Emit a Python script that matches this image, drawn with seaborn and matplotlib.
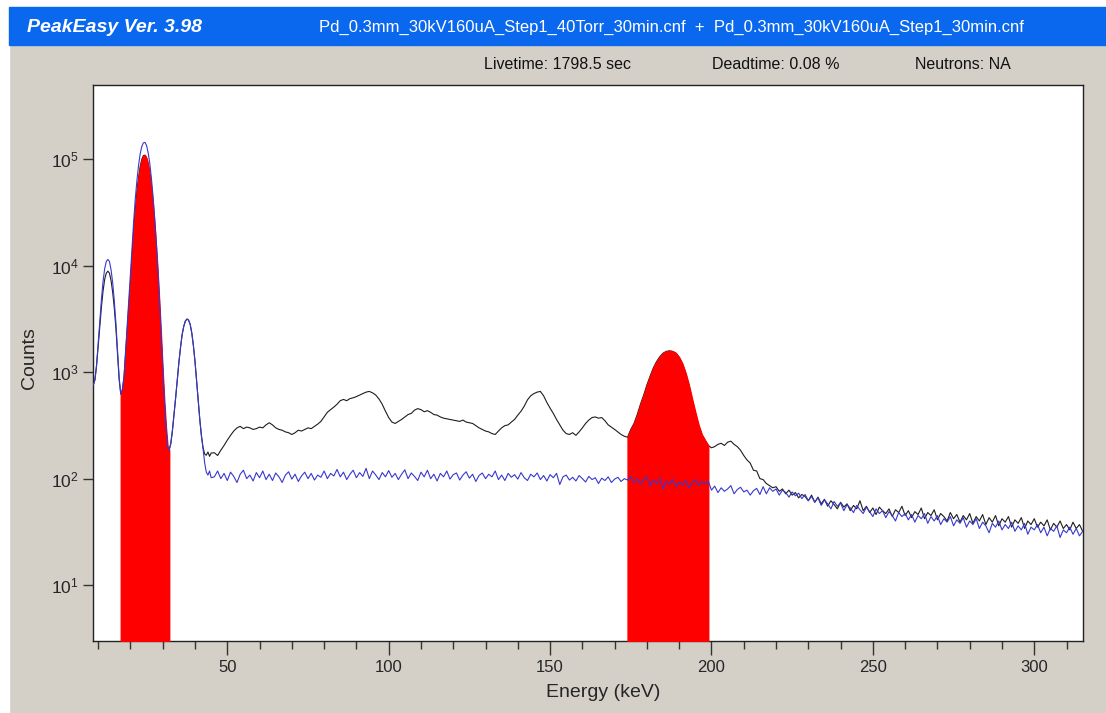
import numpy as np
import pandas as pd
import seaborn as sns
import matplotlib.pyplot as plt
import matplotlib.ticker as tkr
from matplotlib.patches import Rectangle

# energy grid: fine steps over the low-energy peaks, 1 keV over the continuum
energy_fine = np.arange(8.5, 45.5, 0.5)
energy_coarse = np.arange(46, 316, 1)

# black trace (Step1_40Torr) - peak region, 0.5 keV steps
black_fine = [760, 850, 1150, 1740, 2690, 4070, 5750, 7410, 8510, 8910,
              8510, 7240, 5620, 3980, 2570, 1480, 850, 620, 680, 890,
              1510, 2630, 4270, 6920, 12600, 21400, 33900, 50100, 67600, 85100,
              100000, 108400, 109600, 102300, 89100, 70800, 52500, 36300, 23400, 14100,
              7940, 4170, 2090, 1000, 525, 302, 200, 186, 214, 282,
              398, 575, 851, 1230, 1700, 2240, 2690, 3020, 3160, 3090,
              2820, 2340, 1780, 1260, 830, 537, 355, 251, 195, 170,
              166, 178, 162, 174]

# blue trace (Step1_30min) - peak region, 0.5 keV steps
blue_fine = [760, 850, 1170, 1860, 3020, 4790, 7080, 9330, 10960, 11480,
             10960, 9120, 6920, 4680, 2880, 1580, 890, 630, 690, 910,
             1580, 2820, 4790, 8130, 14800, 26300, 42700, 63100, 87100, 112200,
             131800, 142900, 144500, 134900, 114800, 91200, 66100, 44700, 28200, 16600,
             9120, 4680, 2240, 1050, 537, 302, 200, 186, 214, 282,
             398, 575, 851, 1230, 1700, 2240, 2690, 3020, 3160, 3090,
             2820, 2340, 1780, 1260, 830, 537, 355, 251, 190, 140,
             115, 108, 118, 102]

# black trace 46..315 keV
black_coarse = [175, 165, 185, 205, 230, 255, 280, 300, 310, 295,
                305, 300, 290, 295, 305, 300, 320, 335, 320, 300,
                290, 285, 275, 270, 260, 270, 285, 280, 290, 300,
                295, 310, 325, 345, 380, 420, 445, 470, 500, 540,
                555, 540, 565, 575, 590, 610, 630, 650, 660, 640,
                610, 560, 500, 430, 375, 340, 330, 345, 360, 380,
                400, 410, 440, 455, 445, 425, 435, 420, 400, 395,
                380, 370, 365, 360, 355, 350, 345, 355, 340, 335,
                330, 315, 300, 290, 280, 275, 265, 260, 280, 300,
                315, 320, 340, 360, 395, 430, 480, 550, 600, 630,
                650, 660, 600, 520, 460, 410, 360, 320, 285, 265,
                260, 270, 255, 275, 300, 330, 355, 375, 380, 370,
                375, 350, 320, 305, 290, 275, 260, 250, 245, 290,
                330, 400, 500, 610, 760, 920, 1100, 1260, 1400, 1510,
                1570, 1590, 1570, 1510, 1380, 1200, 980, 760, 560, 420,
                320, 260, 230, 205, 195, 200, 210, 215, 205, 220,
                225, 210, 200, 185, 165, 150, 140, 120, 118, 100,
                98, 90, 86, 82, 84, 76, 80, 72, 78, 70,
                74, 66, 71, 68, 62, 70, 60, 67, 58, 64,
                55, 62, 57, 52, 60, 54, 58, 50, 56, 52,
                62, 50, 55, 48, 53, 46, 54, 50, 47, 52,
                44, 51, 48, 55, 45, 50, 43, 49, 46, 53,
                42, 48, 45, 51, 41, 47, 44, 40, 48, 42,
                46, 39, 45, 41, 47, 38, 44, 40, 46, 37,
                43, 39, 45, 36, 42, 39, 44, 35, 41, 38,
                43, 34, 40, 37, 42, 35, 39, 36, 41, 33,
                38, 35, 40, 34, 37, 33, 39, 34, 37, 32]

# blue trace 46..315 keV
blue_coarse = [104, 118, 100, 112, 96, 115, 105, 92, 110, 120,
               100, 108, 95, 114, 102, 118, 98, 110, 96, 113,
               104, 92, 108, 116, 99, 110, 94, 106, 115, 100,
               112, 97, 108, 103, 118, 100, 112, 106, 122, 104,
               115, 98, 110, 120, 102, 114, 105, 125, 100, 118,
               108, 98, 114, 104, 119, 103, 112, 98, 110, 121,
               100, 113, 105, 96, 115, 104, 120, 100, 110, 95,
               112, 104, 118, 99, 109, 113, 97, 108, 116, 101,
               110, 94, 107, 113, 100, 110, 104, 118, 98, 108,
               96, 112, 103, 109, 99, 114, 102, 96, 110, 104,
               113, 98, 107, 95, 109, 102, 112, 88, 104, 108,
               97, 103, 95, 107, 100, 93, 105, 98, 102, 90,
               101, 96, 104, 92, 99, 103, 94, 100, 97, 105,
               92, 100, 88, 98, 104, 85, 97, 90, 101, 80,
               95, 88, 99, 84, 93, 87, 96, 82, 92, 98,
               86, 94, 89, 95, 78, 85, 74, 82, 76, 80,
               86, 72, 79, 83, 75, 78, 70, 77, 81, 71,
               84, 72, 82, 76, 80, 70, 78, 74, 67, 75,
               69, 73, 65, 71, 62, 68, 60, 66, 56, 63,
               58, 52, 61, 55, 59, 50, 57, 53, 48, 56,
               51, 47, 54, 49, 44, 52, 47, 50, 43, 49,
               45, 40, 48, 44, 47, 41, 46, 39, 45, 42,
               47, 38, 44, 40, 45, 37, 42, 39, 44, 36,
               41, 38, 43, 35, 40, 37, 42, 34, 39, 36,
               31, 38, 35, 40, 33, 37, 34, 39, 32, 36,
               33, 38, 30, 35, 33, 37, 31, 35, 29, 34,
               32, 36, 28, 33, 31, 35, 30, 34, 29, 32]

# regions of interest shaded in red (keV)
roi_bounds = [(16.7, 32.2), (174.0, 199.0)]

title = "PeakEasy Ver. 3.98"
files = "Pd_0.3mm_30kV160uA_Step1_40Torr_30min.cnf  +  Pd_0.3mm_30kV160uA_Step1_30min.cnf"
info = ["Livetime: 1798.5 sec", "Deadtime: 0.08 %", "Neutrons: NA"]

spec = pd.DataFrame({
    "Energy": np.concatenate([energy_fine, energy_coarse]),
    "Black": np.concatenate([black_fine, black_coarse]),
    "Blue": np.concatenate([blue_fine, blue_coarse]),
})

sns.set_style("white")
plt.rcParams['font.family'] = ['Liberation Sans', 'DejaVu Sans']
plt.rcParams['mathtext.default'] = 'regular'

bg = '#d4d0c8'
fig = plt.figure(figsize=(11.06, 7.13), dpi=100, facecolor=bg)

# window chrome
fig.add_artist(Rectangle((0, 0.9902), 1, 0.0098, transform=fig.transFigure,
                         color='white', zorder=0))
fig.add_artist(Rectangle((0, 0), 0.008, 1, transform=fig.transFigure,
                         color='white', zorder=0))
fig.add_artist(Rectangle((0.008, 0.9369), 0.992, 0.0533, transform=fig.transFigure,
                         color='#0a68ee', zorder=1))
fig.text(0.024, 0.961, title, color='white', fontsize=14, fontweight='bold',
         fontstyle='italic', va='center')
fig.text(0.6074, 0.961, files, color='white', fontsize=12, ha='center', va='center')
for txt, xpos in zip(info, [0.4376, 0.6438, 0.8273]):
    fig.text(xpos, 0.909, txt, color='#111111', fontsize=11.5, va='center')

ax = fig.add_axes([0.0838, 0.1014, 0.8957, 0.7794])
ax.set_facecolor('white')

sns.lineplot(data=spec, x="Energy", y="Black", color='#1e1e1e', lw=0.8,
             estimator=None, sort=False, ax=ax, zorder=2)
for lo, hi in roi_bounds:
    sel = spec[(spec["Energy"] >= lo) & (spec["Energy"] <= hi)]
    ax.fill_between(sel["Energy"], sel["Black"], 1, facecolor='#ff0000',
                    edgecolor='#ff0000', lw=1.0, zorder=3)
sns.lineplot(data=spec, x="Energy", y="Blue", color='#3838cc', lw=0.8,
             estimator=None, sort=False, ax=ax, zorder=4)

ax.set_yscale('log')
ax.set_xlim(8.3, 315.2)
ax.set_ylim(3, 5e5)
ax.yaxis.set_major_locator(tkr.FixedLocator([1e1, 1e2, 1e3, 1e4, 1e5]))
ax.yaxis.set_major_formatter(tkr.LogFormatterMathtext())
ax.yaxis.set_minor_locator(tkr.NullLocator())
ax.xaxis.set_major_locator(tkr.MultipleLocator(50))
ax.xaxis.set_minor_locator(tkr.MultipleLocator(10))
ax.tick_params(axis='x', which='major', direction='out', length=10, width=1,
               color='#333333', labelsize=12, pad=4)
ax.tick_params(axis='x', which='minor', direction='out', length=6, width=1,
               color='#333333')
ax.tick_params(axis='y', which='major', direction='out', length=7, width=1,
               color='#333333', labelsize=12.5, pad=3, left=True)
ax.tick_params(axis='x', bottom=True, which='both')
for sp in ax.spines.values():
    sp.set_color('#222222')
    sp.set_linewidth(1.0)

ax.set_xlabel('Energy (keV)', fontsize=14)
ax.xaxis.set_label_coords(0.515, -0.078)
ax.set_ylabel('Counts', fontsize=14)
ax.yaxis.set_label_coords(-0.055, 0.509)

fig.savefig('out.png', dpi=100, facecolor=bg)
